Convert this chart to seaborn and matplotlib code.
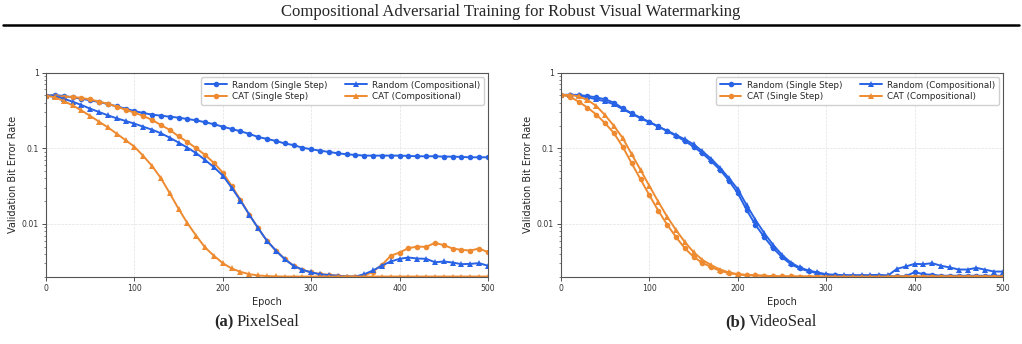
import matplotlib
matplotlib.use('Agg')
import matplotlib.pyplot as plt
import matplotlib.ticker as mticker
from matplotlib.lines import Line2D
import seaborn as sns
import pandas as pd
import numpy as np

# epochs sampled every 10
epochs = list(range(0, 501, 10))

series_names = ['Random (Single Step)', 'CAT (Single Step)',
                'Random (Compositional)', 'CAT (Compositional)']

# PixelSeal panel
pixel_rand_ss = [0.497, 0.507, 0.492, 0.472, 0.453, 0.431, 0.410, 0.385, 0.359, 0.334,
                 0.311, 0.293, 0.279, 0.270, 0.262, 0.254, 0.244, 0.234, 0.221, 0.208,
                 0.193, 0.180, 0.168, 0.155, 0.141, 0.133, 0.125, 0.116, 0.110, 0.102,
                 0.097, 0.093, 0.0895, 0.0859, 0.0833, 0.0816, 0.0800, 0.0800, 0.0800, 0.0800,
                 0.0800, 0.0792, 0.0784, 0.0784, 0.0784, 0.0776, 0.0776, 0.0768, 0.0760, 0.0760, 0.0760]
pixel_cat_ss = [0.497, 0.492, 0.482, 0.480, 0.463, 0.444, 0.414, 0.389, 0.355, 0.324,
                0.296, 0.268, 0.237, 0.203, 0.175, 0.144, 0.121, 0.100, 0.0816, 0.064,
                0.0477, 0.0318, 0.0208, 0.0132, 0.00877, 0.00596, 0.00444, 0.00345, 0.00281, 0.00247,
                0.00228, 0.00216, 0.00212, 0.00206, 0.00201, 0.00201, 0.00206, 0.00234, 0.00287, 0.00378,
                0.00418, 0.00477, 0.00501, 0.00496, 0.00561, 0.00523, 0.00472, 0.00453, 0.00444, 0.00472, 0.00422]
pixel_rand_comp = [0.497, 0.492, 0.453, 0.414, 0.374, 0.334, 0.302, 0.273, 0.249, 0.230,
                   0.212, 0.193, 0.176, 0.158, 0.138, 0.119, 0.102, 0.0859, 0.0701, 0.0561,
                   0.0435, 0.0302, 0.0203, 0.0132, 0.00877, 0.00596, 0.00444, 0.00341, 0.00279, 0.00247,
                   0.00228, 0.00216, 0.00210, 0.00206, 0.00201, 0.00201, 0.00216, 0.00242, 0.00281, 0.00318,
                   0.00345, 0.00359, 0.00348, 0.00345, 0.00311, 0.00318, 0.00308, 0.00293, 0.00296, 0.00302, 0.00279]
pixel_cat_comp = [0.497, 0.472, 0.422, 0.370, 0.317, 0.268, 0.225, 0.189, 0.156, 0.128,
                  0.105, 0.0792, 0.0584, 0.0402, 0.0254, 0.0158, 0.0102, 0.00694, 0.00487, 0.00378,
                  0.00302, 0.00257, 0.00232, 0.00216, 0.00208, 0.00204, 0.00202, 0.00201, 0.00201, 0.00201,
                  0.00201, 0.00201, 0.00201, 0.00201, 0.00201, 0.00201, 0.00201, 0.00201, 0.00201, 0.00201,
                  0.00201, 0.00201, 0.00201, 0.00201, 0.00201, 0.00201, 0.00201, 0.00201, 0.00201, 0.00201, 0.00201]

# VideoSeal panel
video_rand_ss = [0.507, 0.512, 0.507, 0.491, 0.472, 0.444, 0.401, 0.338, 0.290, 0.254,
                 0.223, 0.195, 0.169, 0.146, 0.125, 0.105, 0.0859, 0.0673, 0.0517, 0.0374,
                 0.0254, 0.0153, 0.0097, 0.00667, 0.00477, 0.00363, 0.00293, 0.00257, 0.00237, 0.00223,
                 0.00212, 0.00208, 0.00206, 0.00203, 0.00203, 0.00203, 0.00203, 0.00203, 0.00203, 0.00203,
                 0.00230, 0.00216, 0.00212, 0.00206, 0.00206, 0.00206, 0.00206, 0.00206, 0.00206, 0.00206, 0.00206]
video_cat_ss = [0.507, 0.482, 0.414, 0.345, 0.279, 0.214, 0.158, 0.104, 0.0633, 0.0389,
                0.0239, 0.0150, 0.00980, 0.00673, 0.00477, 0.00366, 0.00305, 0.00268, 0.00239, 0.00223,
                0.00214, 0.00210, 0.00208, 0.00206, 0.00203, 0.00202, 0.00202, 0.00201, 0.00201, 0.00201,
                0.00201, 0.00201, 0.00201, 0.00201, 0.00201, 0.00201, 0.00201, 0.00201, 0.00201, 0.00201,
                0.00201, 0.00201, 0.00201, 0.00201, 0.00201, 0.00201, 0.00201, 0.00201, 0.00201, 0.00201, 0.00201]
video_rand_comp = [0.507, 0.507, 0.502, 0.472, 0.444, 0.418, 0.381, 0.328, 0.287, 0.249,
                   0.221, 0.193, 0.171, 0.150, 0.1315, 0.113, 0.0913, 0.0723, 0.0550, 0.0402,
                   0.0287, 0.0177, 0.0113, 0.00753, 0.00528, 0.00389, 0.00308, 0.00265, 0.00242, 0.00228,
                   0.00216, 0.00212, 0.00210, 0.00210, 0.00210, 0.00210, 0.00212, 0.00208, 0.00254, 0.00273,
                   0.00296, 0.00293, 0.00302, 0.00279, 0.00265, 0.00249, 0.00249, 0.00262, 0.00247, 0.00234, 0.00234]
video_cat_comp = [0.507, 0.507, 0.487, 0.435, 0.363, 0.273, 0.197, 0.1356, 0.0833, 0.0517,
                  0.0318, 0.0197, 0.0125, 0.00833, 0.00578, 0.00422, 0.00334, 0.00284, 0.00249, 0.00228,
                  0.00216, 0.00212, 0.00208, 0.00206, 0.00203, 0.00202, 0.00202, 0.00201, 0.00201, 0.00201,
                  0.00201, 0.00201, 0.00201, 0.00201, 0.00201, 0.00201, 0.00201, 0.00201, 0.00201, 0.00201,
                  0.00201, 0.00201, 0.00201, 0.00201, 0.00201, 0.00201, 0.00201, 0.00201, 0.00201, 0.00201, 0.00201]

header = 'Compositional Adversarial Training for Robust Visual Watermarking'
panel_tags = ['(a)', '(b)']
panel_names = ['PixelSeal', 'VideoSeal']

BLUE = '#2863e6'
ORANGE = '#ee8a30'
palette = {series_names[0]: BLUE, series_names[1]: ORANGE,
           series_names[2]: BLUE, series_names[3]: ORANGE}
markers = {series_names[0]: 'o', series_names[1]: 'o',
           series_names[2]: '^', series_names[3]: '^'}


def make_frame(vals):
    rows = []
    for name, ys in zip(series_names, vals):
        rows.append(pd.DataFrame({'Epoch': epochs, 'ber': ys, 'method': name}))
    return pd.concat(rows, ignore_index=True)


pixel_df = make_frame([pixel_rand_ss, pixel_cat_ss, pixel_rand_comp, pixel_cat_comp])
video_df = make_frame([video_rand_ss, video_cat_ss, video_rand_comp, video_cat_comp])

sns.set_style('ticks')
plt.rcParams['font.family'] = ['DejaVu Sans']

fig = plt.figure(figsize=(10.22, 3.44), dpi=100)
ax1 = fig.add_axes([0.0450, 0.1956, 0.4325, 0.5931])
ax2 = fig.add_axes([0.5489, 0.1956, 0.4325, 0.5931])

for ax, df in [(ax1, pixel_df), (ax2, video_df)]:
    sns.lineplot(data=df, x='Epoch', y='ber', hue='method', style='method',
                 hue_order=series_names, style_order=series_names,
                 palette=palette, markers=markers, dashes=False, errorbar=None,
                 linewidth=1.4, markersize=4, markeredgewidth=0, ax=ax)
    ax.set_yscale('log')
    ax.set_xlim(0, 500)
    ax.set_ylim(0.002, 1)
    ax.set_xticks([0, 100, 200, 300, 400, 500])
    ax.set_yticks([0.01, 0.1, 1])
    ax.set_yticklabels(['0.01', '0.1', '1'])
    ax.yaxis.set_minor_locator(mticker.LogLocator(base=10, subs=np.arange(2, 10)))
    ax.yaxis.set_minor_formatter(mticker.NullFormatter())
    ax.grid(True, which='major', linestyle='--', linewidth=0.5, color='#e2e2e2')
    ax.set_axisbelow(True)
    for s in ax.spines.values():
        s.set_visible(True)
        s.set_color('#555555')
        s.set_linewidth(0.8)
    ax.tick_params(axis='both', which='major', labelsize=5.6, length=3, width=0.6,
                   colors='#333333', pad=2)
    ax.tick_params(axis='y', which='minor', length=1.6, width=0.5, color='#555555')
    ax.set_xlabel('Epoch', fontsize=7, labelpad=3)
    ax.set_ylabel('Validation Bit Error Rate', fontsize=7, labelpad=3)
    handles, labels = ax.get_legend_handles_labels()
    ax.legend(handles, labels, ncol=2, loc='upper right', fontsize=6.3,
              handlelength=2.5, handletextpad=0.6, columnspacing=2.0,
              frameon=True, edgecolor='#d0d0d0', framealpha=1.0,
              borderpad=0.4, labelspacing=0.3)

# paper header and rule
fig.text(0.5, 1 - 12 / 344, header, ha='center', va='center',
         family='Liberation Serif', fontsize=12)
fig.add_artist(Line2D([3 / 1022, 1019 / 1022], [1 - 24.5 / 344, 1 - 24.5 / 344],
                      transform=fig.transFigure, color='black', linewidth=1.8))

# sub-captions
for split, tag, name in zip([234 / 1022, 746 / 1022], panel_tags, panel_names):
    fig.text(split, 22 / 344, tag, ha='right', va='center', family='Liberation Serif',
             fontsize=12, fontweight='bold')
    fig.text(split + 3 / 1022, 22 / 344, name, ha='left', va='center',
             family='Liberation Serif', fontsize=12)

fig.savefig('out.png', dpi=100)
